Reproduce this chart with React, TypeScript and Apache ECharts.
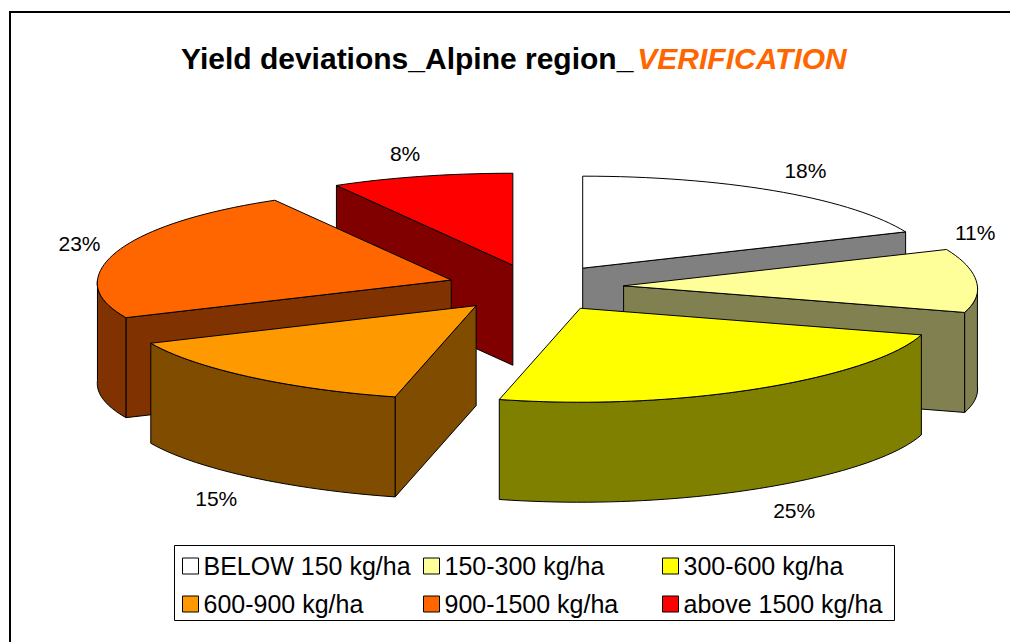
import React, { useEffect, useRef } from "react";
import * as echarts from "echarts";

const categories = ["BELOW 150 kg/ha", "150-300 kg/ha", "300-600 kg/ha", "600-900 kg/ha", "900-1500 kg/ha", "above 1500 kg/ha"];
const shares = [18, 11, 25, 15, 23, 8];
const topColors = ["#FFFFFF", "#FFFF99", "#FFFF00", "#FF9900", "#FF6600", "#FF0000"];
const wallColors = ["#808080", "#808050", "#808000", "#804D00", "#803300", "#800000"];
const paintOrder = [0, 5, 4, 1, 3, 2];
const labelNudge = [[27, -21], [-1, -48], [45, 20], [-37, 21], [-37, -8], [-16, -23]];
const legendColumns = [[0, 3], [1, 4], [2, 5]];
const legendLefts = [182, 423, 662];

const CX = 535, CY = 288, RX = 354, RY_BACK = 92, RY_FRONT = 94, DEPTH = 100;
const EXPLODE_X = 89, EXPLODE_Y = 23.5, SKEW_BACK = 0.045, SKEW_FRONT = 0.085, SAG = 3.5;
const RAD = Math.PI / 180;

function pt(ax: number, ay: number, deg: number) {
  const s = Math.sin(deg * RAD), c = Math.cos(deg * RAD);
  const ry = c < 0 ? RY_FRONT : RY_BACK;
  const skew = c < 0 ? SKEW_FRONT : SKEW_BACK;
  return [ax + RX * s * (1 + skew * c * Math.abs(c)), ay - ry * c + SAG * s * s];
}
function arcPts(ax: number, ay: number, a0: number, a1: number, dy = 0) {
  const out: number[][] = [];
  const n = Math.max(2, Math.ceil((a1 - a0) / 2));
  for (let i = 0; i <= n; i++) {
    const p = pt(ax, ay, a0 + ((a1 - a0) * i) / n);
    out.push([p[0], p[1] + dy]);
  }
  return out;
}

function makeRender(index: number) {
  return () => {
    const total = shares.reduce((s, v) => s + v, 0);
    const before = shares.slice(0, index).reduce((s, v) => s + v, 0);
    const a0 = (before / total) * 360;
    const a1 = ((before + shares[index]) / total) * 360;
    const mid = (a0 + a1) / 2;
    const ax = CX + EXPLODE_X * Math.sin(mid * RAD);
    const ay = CY - EXPLODE_Y * Math.cos(mid * RAD);
    const lineStyle = { stroke: "#000", lineWidth: 1, lineJoin: "round" as const };
    const wall = wallColors[index];
    const children: any[] = [];
    const s = pt(ax, ay, a0);
    const e = pt(ax, ay, a1);
    const wallPoly = (p: number[]) => ({
      type: "polygon",
      shape: { points: [[ax, ay], p, [p[0], p[1] + DEPTH], [ax, ay + DEPTH]] },
      style: { fill: wall, ...lineStyle },
    });
    if (Math.sin(a0 * RAD) < -1e-6) children.push(wallPoly(s));
    if (Math.sin(a1 * RAD) > 1e-6) children.push(wallPoly(e));
    const f0 = Math.max(a0, 88), f1 = Math.min(a1, 272);
    if (f1 > f0) {
      const topEdge = arcPts(ax, ay, f0, f1);
      const botEdge = arcPts(ax, ay, f0, f1, DEPTH).reverse();
      children.push({
        type: "polygon",
        shape: { points: topEdge.concat(botEdge) },
        style: { fill: wall, ...lineStyle },
      });
    }
    children.push({
      type: "polygon",
      shape: { points: [[ax, ay], ...arcPts(ax, ay, a0, a1)] },
      style: { fill: topColors[index], ...lineStyle },
    });
    const rim = pt(ax, ay, mid);
    const front = Math.cos(mid * RAD) < -0.3 ? DEPTH : 0;
    children.push({
      type: "text",
      style: {
        x: rim[0] + labelNudge[index][0],
        y: rim[1] + front + labelNudge[index][1],
        text: shares[index] + "%",
        fill: "#000",
        font: "21px 'Liberation Sans', Arial, sans-serif",
        align: "center",
        verticalAlign: "middle",
      },
    });
    return { type: "group", children };
  };
}

export default function App() {
  const ref = useRef<HTMLDivElement>(null);
  useEffect(() => {
    document.body.style.margin = "0";
    const chart = echarts.init(ref.current!, undefined, { renderer: "svg" });
    chart.setOption({
      animation: false,
      backgroundColor: "#fff",
      title: {
        text: "{a|Yield deviations_Alpine region_}{b|VERIFICATION}",
        left: 176,
        top: 38,
        textStyle: {
          rich: {
            a: { fontFamily: "Liberation Sans", fontWeight: "bold", fontSize: 30, color: "#000" },
            b: { fontFamily: "Liberation Sans", fontWeight: "bold", fontStyle: "italic", fontSize: 30, color: "#FF6600", padding: [0, 0, 0, 4] },
          },
        },
      },
      legend: legendColumns.map((col, c) => ({
        left: legendLefts[c],
        top: 552,
        orient: "vertical",
        icon: "rect",
        itemWidth: 16,
        itemHeight: 16,
        itemGap: 10,
        padding: 0,
        itemStyle: { borderColor: "#000", borderWidth: 1 },
        textStyle: { fontFamily: "Liberation Sans", fontSize: 25, color: "#000", lineHeight: 28 },
        data: col.map((i) => categories[i]),
      })),
      graphic: [
        {
          type: "polyline",
          silent: true,
          shape: { points: [[10, 642], [10, 12], [1010, 12]] },
          style: { fill: "none", stroke: "#000", lineWidth: 2 },
        },
        {
          type: "rect",
          silent: true,
          z: 0,
          shape: { x: 174.5, y: 545.5, width: 720, height: 75 },
          style: { fill: "#fff", stroke: "#000", lineWidth: 1 },
        },
      ],
      series: paintOrder.map((i, order) => ({
        type: "custom",
        name: categories[i],
        coordinateSystem: "none",
        z: 2 + order,
        itemStyle: { color: topColors[i] },
        data: [shares[i]],
        renderItem: makeRender(i),
        silent: true,
      })),
    });
    return () => chart.dispose();
  }, []);
  return <div ref={ref} style={{ width: 1010, height: 642 }} />;
}
